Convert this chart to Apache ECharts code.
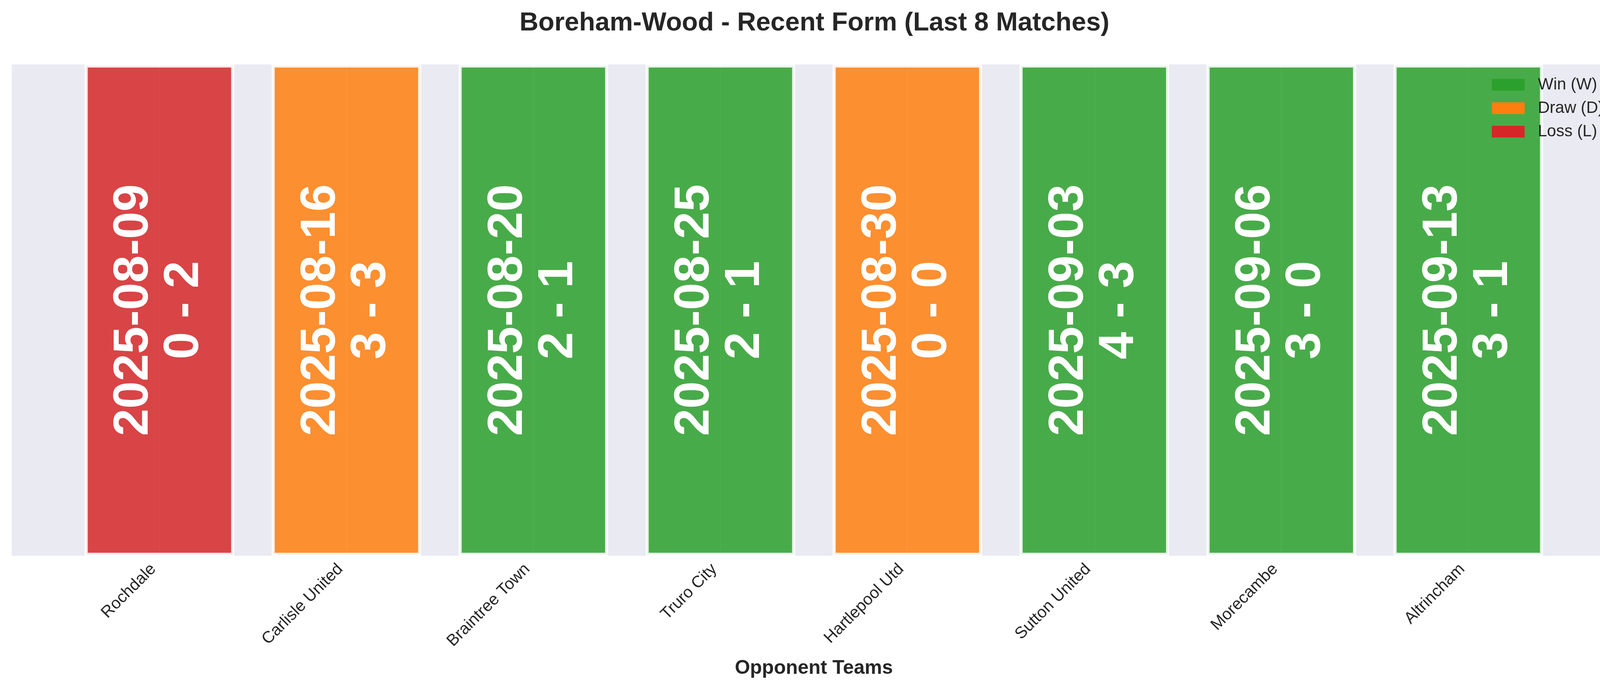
<!DOCTYPE html>
<html>
<head>
<meta charset="utf-8">
<script src="https://cdn.jsdelivr.net/npm/echarts@6/dist/echarts.min.js"></script>
<style>
  html, body { margin: 0; padding: 0; background: #fff; }
  #form { width: 4170px; height: 1769px; }
</style>
</head>
<body>
<div id="form"></div>
<script>
var chartDom = document.getElementById('form');
var myChart = echarts.init(chartDom);

// last 8 matches
const teams = ['Rochdale', 'Carlisle United', 'Braintree Town', 'Truro City',
    'Hartlepool Utd', 'Sutton United', 'Morecambe', 'Altrincham'];
const dates = ['2025-08-09', '2025-08-16', '2025-08-20', '2025-08-25',
    '2025-08-30', '2025-09-03', '2025-09-06', '2025-09-13'];
const scores = ['0 - 2', '3 - 3', '2 - 1', '2 - 1', '0 - 0', '4 - 3', '3 - 0', '3 - 1'];
const results = ['L', 'D', 'W', 'W', 'D', 'W', 'W', 'W'];
const barHeights = [1, 1, 1, 1, 1, 1, 1, 1];

const resultNames = { W: 'Win (W)', D: 'Draw (D)', L: 'Loss (L)' };
const resultColors = { W: '#2ca02c', D: '#ff7f0e', L: '#d62728' };
const legendOrder = ['W', 'D', 'L'];

const FONT = '"Liberation Sans", Arial, Helvetica, sans-serif';
const TEXT = '#262626';

// plot area (matplotlib-like margins around the bars)
const gridLeft = 30, gridRight = 33, gridTop = 165, gridBottom = 346;
const xMin = -0.79, xMax = 7.79;
const plotW = chartDom.clientWidth - gridLeft - gridRight;
const unitPx = plotW / (xMax - xMin);

const barData = barHeights.map((h, i) => ({
    value: [i, h],
    itemStyle: { color: resultColors[results[i]] }
}));

// empty series only to get the legend entries
const legendSeries = legendOrder.map(r => ({
    name: resultNames[r],
    type: 'line',
    data: [],
    itemStyle: { color: resultColors[r] },
    lineStyle: { color: resultColors[r] }
}));

var option = {
    backgroundColor: '#ffffff',
    animation: false,
    textStyle: { fontFamily: FONT },
    title: {
        text: 'Boreham-Wood - Recent Form (Last 8 Matches)',
        left: 'center',
        top: 26,
        padding: 0,
        textStyle: {
            fontFamily: FONT,
            fontSize: 67,
            fontWeight: 'bold',
            color: TEXT
        }
    },
    legend: {
        data: legendOrder.map(r => resultNames[r]),
        orient: 'vertical',
        left: 3819,
        top: 196,
        padding: 0,
        icon: 'rect',
        itemWidth: 84,
        itemHeight: 30,
        itemGap: 18,
        textStyle: {
            fontFamily: FONT,
            fontSize: 42,
            lineHeight: 42,
            color: TEXT,
            padding: [0, 0, 0, 29]
        }
    },
    grid: {
        left: gridLeft,
        right: gridRight,
        top: gridTop,
        bottom: gridBottom,
        show: true,
        backgroundColor: '#EAEAF2',
        borderWidth: 0,
        containLabel: false
    },
    xAxis: {
        type: 'value',
        min: xMin,
        max: xMax,
        name: 'Opponent Teams',
        nameLocation: 'middle',
        nameGap: 263,
        nameTextStyle: {
            fontFamily: FONT,
            fontSize: 50,
            fontWeight: 'bold',
            color: TEXT
        },
        axisLine: { show: false },
        axisTick: { show: false, customValues: teams.map((t, i) => i) },
        splitLine: {
            show: true,
            lineStyle: { color: '#ffffff', width: 4 }
        },
        axisLabel: {
            customValues: teams.map((t, i) => i),
            formatter: v => teams[Math.round(v)],
            rotate: 45,
            margin: 12,
            padding: [0, 22, 0, 0],
            fontFamily: FONT,
            fontSize: 42,
            color: TEXT
        }
    },
    yAxis: {
        type: 'value',
        min: 0,
        max: 1,
        show: false,
        splitLine: { show: false }
    },
    series: [
        {
            name: 'Form',
            type: 'bar',
            data: barData,
            barWidth: 0.8 * unitPx,
            itemStyle: {
                opacity: 0.85,
                borderColor: '#ffffff',
                borderWidth: 8
            },
            label: {
                show: true,
                position: 'inside',
                rotate: 90,
                opacity: 1,
                formatter: p => dates[p.dataIndex] + '\n' + scores[p.dataIndex],
                fontFamily: FONT,
                fontSize: 126,
                fontWeight: 'bold',
                lineHeight: 129,
                color: '#ffffff',
                textBorderWidth: 0,
                align: 'center',
                verticalAlign: 'middle'
            },
            emphasis: { disabled: true }
        }
    ].concat(legendSeries)
};

option && myChart.setOption(option);
</script>
</body>
</html>
